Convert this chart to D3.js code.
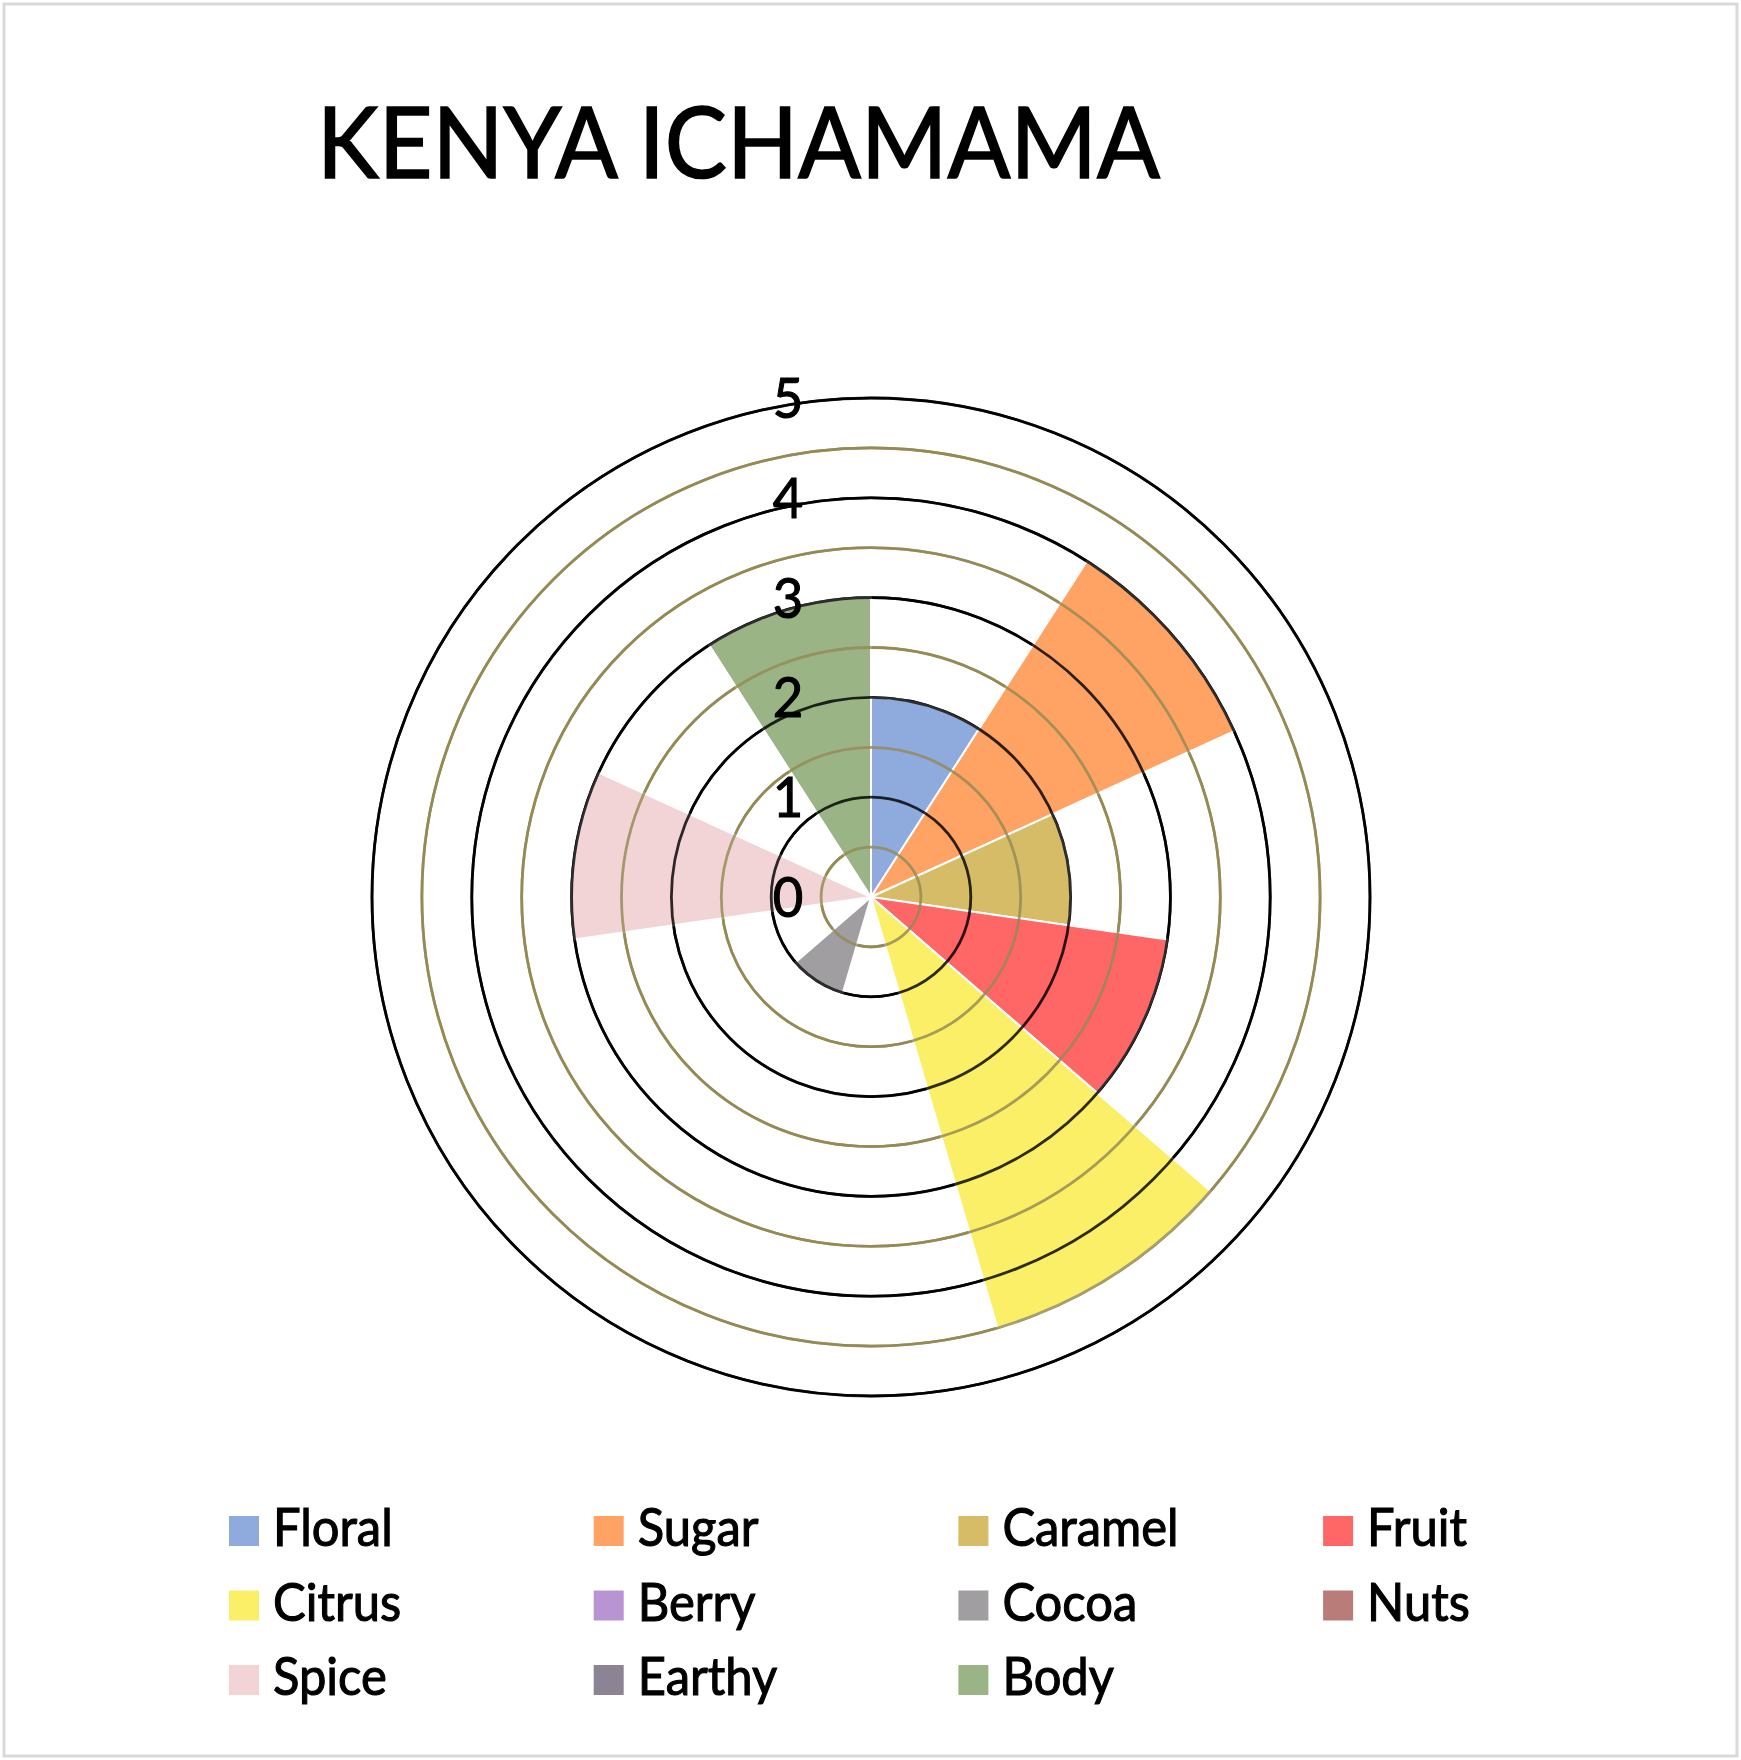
<!DOCTYPE html>
<html>
<head>
<meta charset="utf-8">
<script src="https://cdn.jsdelivr.net/npm/d3@7"></script>
<style>
  html, body { margin: 0; padding: 0; background: #fff; }
  svg { display: block; }
  text { font-family: Lato, "Open Sans", sans-serif; fill: #000; stroke: #000; paint-order: stroke; }
</style>
</head>
<body>
<script>
// ---- data ----
const title = "KENYA ICHAMAMA";
const categories = ["Floral", "Sugar", "Caramel", "Fruit", "Citrus", "Berry", "Cocoa", "Nuts", "Spice", "Earthy", "Body"];
const values = [2, 4, 2, 3, 4.5, 0, 1, 0, 3, 0, 3];
const colors = ["#8FAADC", "#FFA365", "#D6BC66", "#FF6666", "#FAEF66", "#B894D2", "#A09EA0", "#B97C79", "#F2D4D6", "#8C8494", "#9AB486"];
const tickValues = [0, 1, 2, 3, 4, 5];
const gridValues = [0.5, 1, 1.5, 2, 2.5, 3, 3.5, 4, 4.5, 5];

// ---- layout ----
const W = 1741, H = 1760;
const cx = 871, cy = 897;
const svg = d3.select("body").append("svg").attr("width", W).attr("height", H);

svg.append("rect").attr("x", 4).attr("y", 4).attr("width", W - 8).attr("height", H - 8)
  .attr("fill", "#fff").attr("stroke", "#D9D9D9").attr("stroke-width", 3);

const r = d3.scaleLinear().domain([0, 5]).range([0, 499]);
const ang = d3.scaleLinear().domain([0, categories.length]).range([0, 2 * Math.PI]);

const g = svg.append("g").attr("transform", `translate(${cx},${cy})`);

function drawRings(sel, opacity, width) {
  sel.selectAll("circle").data(gridValues).join("circle")
    .attr("r", d => r(d))
    .attr("fill", "none")
    .attr("stroke", d => Number.isInteger(d) ? "#000" : "#948A54")
    .attr("stroke-width", width)
    .attr("stroke-opacity", opacity);
}

drawRings(g.append("g"), 1, 2.6);

const arc = d3.arc()
  .innerRadius(0)
  .outerRadius(d => r(d.v))
  .startAngle(d => ang(d.i))
  .endAngle(d => ang(d.i + 1));

const data = categories.map((c, i) => ({ c, i, v: values[i], color: colors[i] }));
g.append("g").selectAll("path").data(data.filter(d => d.v > 0)).join("path")
  .attr("d", arc)
  .attr("fill", d => d.color)
  .attr("stroke", "#fff")
  .attr("stroke-width", 2)
  .attr("stroke-linejoin", "round");

drawRings(g.append("g"), 0.82, 2.8);

// ---- texts ----
const titleText = svg.append("text").text(title)
  .attr("font-size", 99)
  .attr("stroke-width", 1.6)
  .attr("x", 0).attr("y", 0);
const natural = titleText.node().getComputedTextLength();
const sx = 843 / natural;
titleText.attr("transform", `translate(317,178) scale(${sx},1)`);

// radial tick labels
svg.append("g").selectAll("text").data(tickValues).join("text")
  .text(d => d)
  .attr("font-size", 56)
  .attr("stroke-width", 1.1)
  .attr("text-anchor", "middle")
  .attr("transform", d => `translate(${cx - 83},${cy - r(d) + 20}) scale(${sx},1)`);

// legend
const cols = 4, colW = 364.7, rowH = 74.5, lx = 229, ly = 1516, sw = 30;
const leg = svg.append("g").selectAll("g").data(data).join("g")
  .attr("transform", (d, i) => `translate(${lx + (i % cols) * colW},${ly + Math.floor(i / cols) * rowH})`);
leg.append("rect").attr("width", sw).attr("height", sw).attr("fill", d => d.color).attr("stroke", "none");
leg.append("text").text(d => d.c)
  .attr("font-size", 52)
  .attr("stroke-width", 1.1)
  .attr("transform", `translate(44,30) scale(${sx},1)`);
</script>
</body>
</html>
